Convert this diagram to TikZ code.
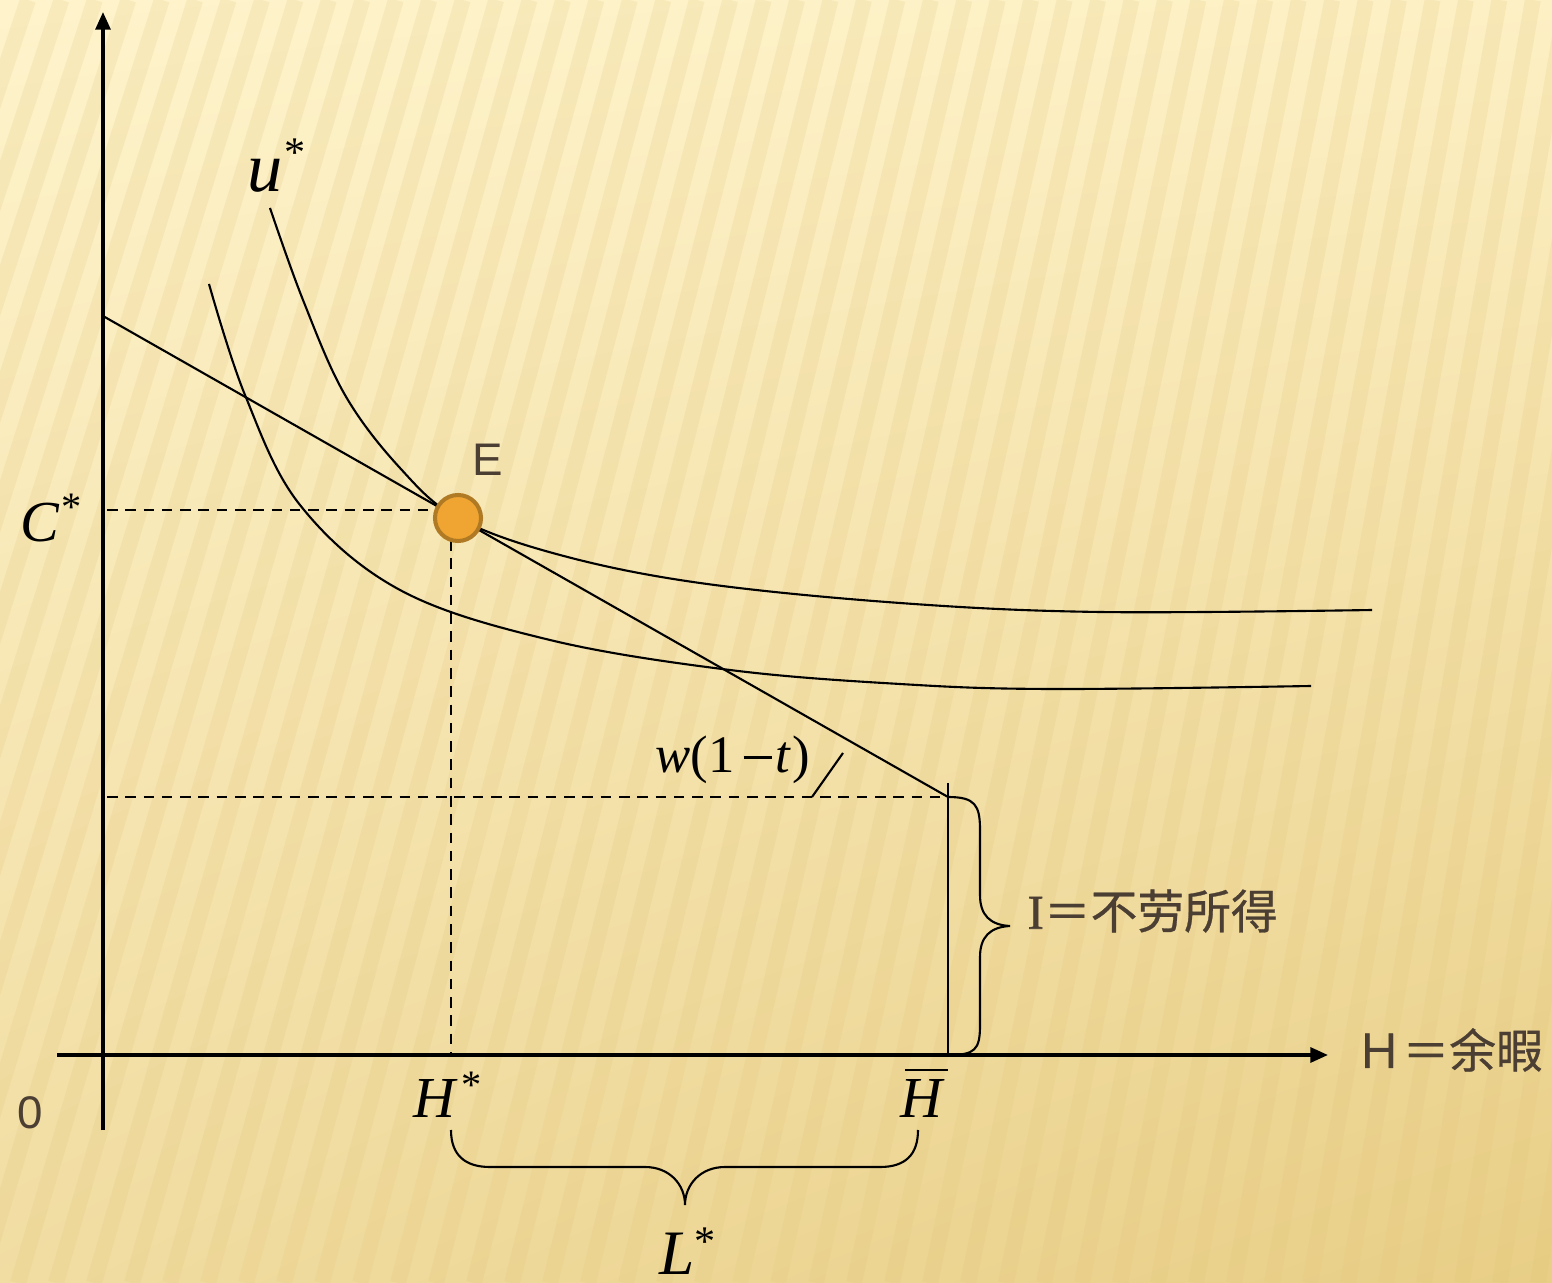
\documentclass[tikz,border=0pt]{standalone}
\usepackage{fontspec}
\setmainfont{Liberation Serif}
\setsansfont{Liberation Sans}
\newfontfamily\cjk[FakeBold=0.6]{Noto Sans CJK SC}
\newfontfamily\serifI[FakeBold=1.2]{Liberation Serif}
\usetikzlibrary{arrows.meta,shadings}
\definecolor{bgA}{HTML}{FEF3CB}
\definecolor{bgB}{HTML}{FDF0C4}
\definecolor{bgC}{HTML}{F1DDA2}
\definecolor{bgD}{HTML}{E8CE86}
\definecolor{stripe}{HTML}{E0C276}
\definecolor{txtbrown}{HTML}{4B3E33}
\definecolor{dotfill}{HTML}{F0A431}
\definecolor{dotedge}{HTML}{B07A25}
\tikzset{
  axis/.style={line width=1pt, -{Triangle[length=5pt,width=4.2pt]}},
  curve/.style={line width=0.6pt},
  guide/.style={line width=0.6pt, dash pattern=on 3pt off 2.2pt},
  lbl/.style={inner sep=0pt, text=black, anchor=base west},
  cjklbl/.style={inner sep=0pt, text=txtbrown, font=\cjk\fontsize{13.3}{15}\selectfont},
}
\newcommand{\starup}[2]{\raisebox{#1}{\fontsize{#2}{#2}\selectfont *}}
\begin{document}
\begin{tikzpicture}[x=0.01cm, y=-0.01cm]
\useasboundingbox (0,0) rectangle (1552,1283);
% background
\shade[upper left=bgA, upper right=bgB, lower left=bgC, lower right=bgD] (0,0) rectangle (1552,1283);
\begin{scope}
\clip (0,0) rectangle (1552,1283);
\foreach \x in {-400,-362,...,1600} {
  \draw[stripe, opacity=0.18, line width=4.5pt] (\x,1283) -- ({\x*0.88+380},0);
}
\end{scope}

% axes
\coordinate (ybot) at (103,1130);
\coordinate (ytop) at (103,12);
\coordinate (xl) at (57,1055);
\coordinate (xr) at (1328,1055);
\draw[axis] (ybot) -- (ytop);
\draw[axis] (xl) -- (xr);

% key points
\coordinate (B0) at (103,316);
\coordinate (Bend) at (948,797);
\coordinate (Ept) at (458,518);

% guides
\coordinate (cL) at (107,510);
\coordinate (cR) at (435,510);
\coordinate (hT) at (451,540);
\coordinate (hB) at (451,1055);
\coordinate (iL) at (107,797);
\draw[guide] (cL) -- (cR);
\draw[guide] (hT) -- (hB);
\draw[guide] (iL) -- (Bend);

% H-bar vertical
\coordinate (hbT) at (948,783);
\coordinate (hbB) at (948,1055);
\draw[curve] (hbT) -- (hbB);

% curves
\draw[curve] plot[smooth, tension=0.6] coordinates {(209,284) (245,395) (300,505) (400,590) (550,640) (730,670) (900,684) (1050,689) (1311,686)};
\draw[curve] plot[smooth, tension=0.6] coordinates {(270,208) (303,300) (345,395) (400,468) (458,518) (560,555) (700,583) (900,603) (1100,612) (1372,610)};

% budget line
\draw[curve] (B0) -- (Bend);

% equilibrium point
\node[circle, minimum size=0.46cm, inner sep=0pt, fill=dotfill, draw=dotedge, line width=1.15pt] (E) at (Ept) {};
\node[inner sep=0pt, text=txtbrown, font=\sffamily\fontsize{13}{15}\selectfont] (Elbl) at (488,460) {E};

% right brace
\coordinate (rbTip) at (1010,926);
\draw[curve] (Bend) .. controls (975,797) and (980,805) .. (980,830) -- (980,895)
  .. controls (980,915) and (990,925) .. (rbTip)
  .. controls (990,927) and (980,937) .. (980,957) -- (980,1025)
  .. controls (980,1050) and (975,1055) .. (hbB);

% bottom brace
\coordinate (bbL) at (451,1130);
\coordinate (bbR) at (918,1130);
\coordinate (bbTip) at (685,1205);
\draw[curve] (bbL) .. controls (451,1155) and (465,1167) .. (490,1167) -- (645,1167)
  .. controls (670,1167) and (685,1185) .. (bbTip)
  .. controls (685,1185) and (700,1167) .. (725,1167) -- (880,1167)
  .. controls (905,1167) and (918,1155) .. (bbR);

% w(1-t) pointer
\coordinate (wp1) at (812,797);
\coordinate (wp2) at (843,753);
\draw[curve] (wp1) -- (wp2);

% labels
\node[lbl, font=\fontsize{20}{22}\selectfont] (ulbl) at (247,192) {\textit{u}\hspace{0.5pt}\starup{7.2pt}{12}};
\node[lbl, font=\fontsize{16.5}{18}\selectfont] (Clbl) at (20,542) {\textit{C}\hspace{0.5pt}\starup{6.2pt}{11.5}};
\node[lbl, font=\fontsize{15}{17}\selectfont] (wlbl) at (655,772) {\textit{w}(1\hspace{2.5pt}\rule[3.7pt]{8pt}{0.8pt}\hspace{1.2pt}\textit{t}\hspace{0.3pt})};
\node[lbl, font=\fontsize{16.5}{18}\selectfont] (Hs) at (413,1117) {\textit{H}\hspace{1pt}\starup{5.4pt}{11.5}};
\node[lbl, font=\fontsize{16.5}{18}\selectfont] (Hbar) at (900,1117) {\textit{H}};
\coordinate (barL) at (905,1070);
\coordinate (barR) at (948,1070);
\draw[line width=0.6pt] (barL) -- (barR);
\node[lbl, text depth=0pt, font=\fontsize{18}{20}\selectfont] (Ls) at (659,1274) {\textit{L}\starup{5.2pt}{12}};
\node[inner sep=0pt, text=txtbrown, font=\sffamily\fontsize{13}{15}\selectfont] (zero) at (30,1113) {0};
\node[cjklbl, anchor=west] (Ilbl) at (1027,911) {{\serifI\fontsize{13.8}{15}\selectfont I}＝不劳所得};
\node[cjklbl, anchor=west] (Hlbl) at (1355,1050) {Ｈ＝余暇};
\end{tikzpicture}
\end{document}
